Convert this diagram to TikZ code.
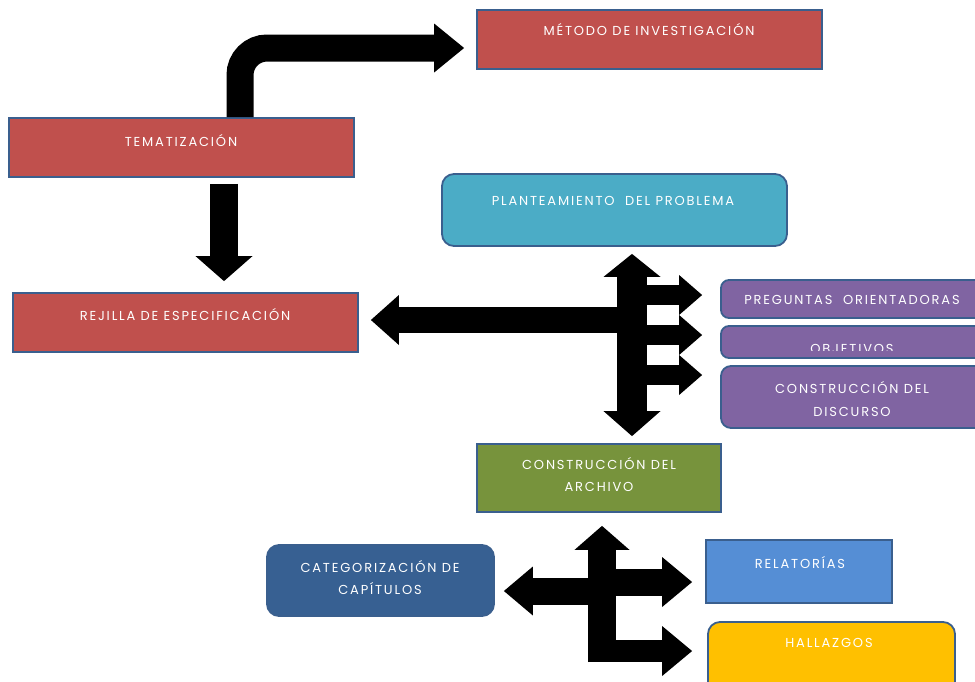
\documentclass[tikz,border=0pt]{standalone}
\usepackage{fontspec}
\setmainfont{Poppins}
\newfontfamily\boxfont[LetterSpace=14]{Poppins}
\usetikzlibrary{arrows.meta,calc,positioning}
\definecolor{boxline}{HTML}{3A5F8E}
\definecolor{boxred}{HTML}{C0504D}
\definecolor{boxteal}{HTML}{4BACC6}
\definecolor{boxpurple}{HTML}{8064A2}
\definecolor{boxgreen}{HTML}{77933C}
\definecolor{boxnavy}{HTML}{376092}
\definecolor{boxblue}{HTML}{558ED5}
\definecolor{boxyellow}{HTML}{FFC000}
\tikzset{box/.style={draw=boxline,line width=1.8pt,inner sep=0pt},
	lbl/.style={text=white,align=center,inner sep=0pt,font=\boxfont\fontsize{13}{22.5}\selectfont},
	shaft/.style={draw=black,line width=#1}}

\begin{document}
\begin{tikzpicture}[x=1pt,y=-1pt]
	\clip (0,0) rectangle (975,681);
	
	\node[box,fill=boxred,minimum width=345,minimum height=59] (metodo) at (649.5,39.5) {};
	\node[box,fill=boxred,minimum width=345,minimum height=59] (tema) at (181.5,147.5) {};
	\node[box,fill=boxteal,rounded corners=12,minimum width=345,minimum height=72] (plan) at (614.5,210) {};
	\node[box,fill=boxred,minimum width=345,minimum height=59] (rejilla) at (185.5,322.5) {};
	\node[box,fill=boxpurple,rounded corners=8,minimum width=269,minimum height=38] (preg) at (855.5,299) {};
	\node[box,fill=boxpurple,rounded corners=8,minimum width=269,minimum height=32] (obj) at (855.5,342) {};
	\node[box,fill=boxpurple,rounded corners=10,minimum width=269,minimum height=62] (disc) at (855.5,397) {};
	\node[box,fill=boxgreen,minimum width=244,minimum height=68] (archivo) at (599,478) {};
	\node[box,fill=boxnavy,rounded corners=12,minimum width=227,minimum height=71] (cat) at (380.5,580.5) {};
	\node[box,fill=boxblue,minimum width=186,minimum height=63] (rel) at (799,571.5) {};
	\node[box,fill=boxyellow,rounded corners=12,minimum width=247,minimum height=73] (hall) at (831.5,658.5) {};
	
	\node[lbl] (metodo-t) at (649,30) {MÉTODO DE INVESTIGACIÓN};
	\node[lbl] (tema-t) at (181,141) {TEMATIZACIÓN};
	\node[lbl] (plan-t) at (613,201) {PLANTEAMIENTO\ \ DEL PROBLEMA};
	\node[lbl] (rejilla-t) at (185,315) {REJILLA DE ESPECIFICACIÓN};
	\node[lbl] (preg-t) at (852,300) {PREGUNTAS\ \ ORIENTADORAS};
	\begin{scope}
		\clip (721,327) rectangle (975,350.5);
		\node[lbl] (obj-t) at (852,349) {OBJETIVOS};
	\end{scope}
	\node[lbl] (disc-t) at (852,399) {CONSTRUCCIÓN DEL\\DISCURSO};
	\node[lbl] (archivo-t) at (599,474.5) {CONSTRUCCIÓN DEL\\ARCHIVO};
	\node[lbl] (cat-t) at (380,577.5) {CATEGORIZACIÓN DE\\CAPÍTULOS};
	\node[lbl] (rel-t) at (800,563) {RELATORÍAS};
	\node[lbl] (hall-t) at (829,643) {HALLAZGOS};
	
	% tematizacion
	\draw[shaft=27,rounded corners=27,-{Triangle[line width=0pt,length=30,width=49]}]
	($(tema.north)+(58.5,0)$) |- ($(metodo.west)+(-12,8.5)$);
	\draw[shaft=28,-{Triangle[line width=0pt,length=25,width=57]}]
	($(tema.south)+(42.5,6)$) -- ($(rejilla.north)+(38.5,-11)$);
	
	% planteamiento
	\coordinate (hubA) at (632,320);
	\draw[shaft=30,{Triangle[line width=0pt,length=23,width=57]}-{Triangle[line width=0pt,length=25,width=57]}]
	($(plan.south -| hubA)+(0,7)$) -- ($(archivo.north -| hubA)+(0,-7)$);
	\draw[shaft=26,-{Triangle[line width=0pt,length=28,width=50]}]
	(hubA) -- ($(rejilla.east |- hubA)+(12,0)$);
	\foreach \dy in {-25,15,55}
	\draw[shaft=20,-{Triangle[line width=0pt,length=23,width=40]}]
	($(hubA)+(0,\dy)$) -- ($(preg.west |- hubA)+(-18,\dy)$);
	
	% archivo
	\coordinate (hubB) at (602,591);
	\draw[shaft=28,-{Triangle[line width=0pt,length=24,width=55]}]
	($(hubB)+(0,71)$) -- ($(archivo.south -| hubB)+(0,13)$);
	\draw[shaft=27,-{Triangle[line width=0pt,length=29,width=49]}]
	(hubB) -- ($(cat.east |- hubB)+(9,0)$);
	\draw[shaft=27,-{Triangle[line width=0pt,length=30,width=50]}]
	($(hubB)+(0,-9)$) -- ($(rel.west |- hubB)+(-13,-9)$);
	\draw[shaft=22,-{Triangle[line width=0pt,length=30,width=50]}]
	($(hubB)+(-14,60)$) -- ($(hall.west |- hubB)+(-15,60)$);
\end{tikzpicture}
\end{document}
